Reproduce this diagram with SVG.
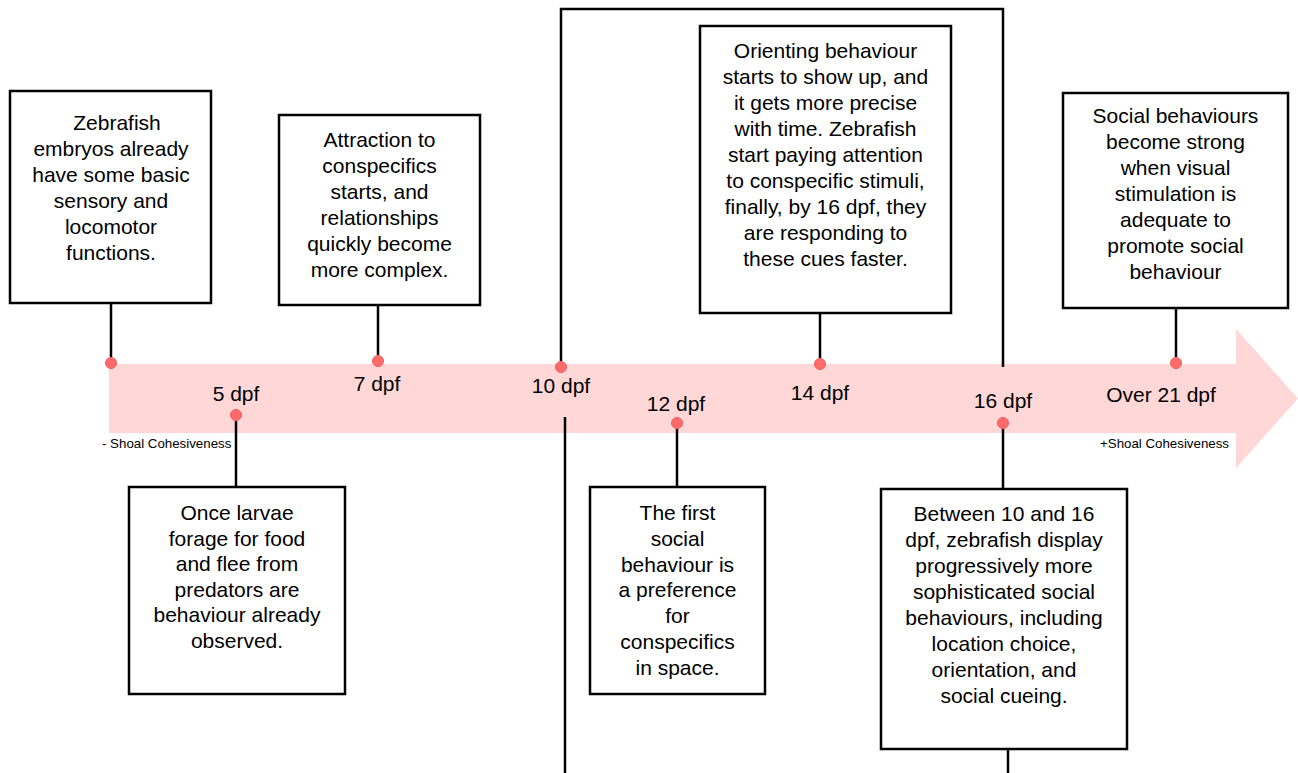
<svg xmlns="http://www.w3.org/2000/svg" width="1298" height="773" viewBox="0 0 1298 773">
<style>
text{font-family:"Liberation Sans",Arial,sans-serif;fill:#000}
.t{font-size:21px;text-anchor:middle}
.s{font-size:13.3px}
.box{fill:#fff;stroke:#000;stroke-width:2.5}
.ln{fill:none;stroke:#000;stroke-width:2.5}
.dot{fill:#ff6b6b;stroke:#f25c5c;stroke-width:1}
</style>
<rect width="1298" height="773" fill="#fff"/>
<g id="timeline-arrow">
<polygon points="109,364 1236,364 1236,329 1298,398.5 1236,468 1236,433 109,433" fill="#ffd7d7"/>
<text class="s" x="102" y="448">- Shoal Cohesiveness</text>
<text class="s" x="1100" y="448">+Shoal Cohesiveness</text>
</g>
<g id="connectors">
<line class="ln" x1="111" y1="303" x2="111" y2="357"/>
<line class="ln" x1="378" y1="305" x2="378" y2="355"/>
<polyline class="ln" points="561,361 561,9 1003,9 1003,367"/>
<line class="ln" x1="565" y1="417" x2="565" y2="773"/>
<line class="ln" x1="820" y1="313" x2="820" y2="358"/>
<line class="ln" x1="1176" y1="308" x2="1176" y2="357"/>
<line class="ln" x1="236" y1="421" x2="236" y2="487"/>
<line class="ln" x1="677" y1="429" x2="677" y2="487"/>
<line class="ln" x1="1003" y1="429" x2="1003" y2="489"/>
<line class="ln" x1="1008" y1="749" x2="1008" y2="773"/>
</g>
<g id="dots">
<circle class="dot" cx="111" cy="363" r="5.5"/>
<circle class="dot" cx="236" cy="415" r="5.5"/>
<circle class="dot" cx="378" cy="361" r="5.5"/>
<circle class="dot" cx="561" cy="367" r="5.5"/>
<circle class="dot" cx="677" cy="423" r="5.5"/>
<circle class="dot" cx="820" cy="364" r="5.5"/>
<circle class="dot" cx="1003" cy="423" r="5.5"/>
<circle class="dot" cx="1176" cy="363" r="5.5"/>
</g>
<g id="labels">
<text class="t" x="236" y="401">5 dpf</text>
<text class="t" x="377" y="391">7 dpf</text>
<text class="t" x="561" y="393">10 dpf</text>
<text class="t" x="676" y="411">12 dpf</text>
<text class="t" x="820" y="400">14 dpf</text>
<text class="t" x="1003" y="408">16 dpf</text>
<text class="t" x="1161" y="402">Over 21 dpf</text>
</g>
<g id="node-embryos">
<rect class="box" x="10" y="91" width="201" height="212"/>
<text class="t"><tspan x="117" y="130">Zebrafish</tspan><tspan x="111" y="156">embryos already</tspan><tspan x="111" y="182">have some basic</tspan><tspan x="111" y="208">sensory and</tspan><tspan x="111" y="234">locomotor</tspan><tspan x="111" y="260">functions.</tspan></text>
</g>
<g id="node-7dpf">
<rect class="box" x="279" y="115" width="201" height="190"/>
<text class="t"><tspan x="379.5" y="147">Attraction to</tspan><tspan x="379.5" y="173">conspecifics</tspan><tspan x="379.5" y="199">starts, and</tspan><tspan x="379.5" y="225">relationships</tspan><tspan x="379.5" y="251">quickly become</tspan><tspan x="379.5" y="277">more complex.</tspan></text>
</g>
<g id="node-14dpf">
<rect class="box" x="700" y="26" width="251" height="287"/>
<text class="t"><tspan x="825.5" y="58">Orienting behaviour</tspan><tspan x="825.5" y="84">starts to show up, and</tspan><tspan x="825.5" y="110">it gets more precise</tspan><tspan x="825.5" y="136">with time. Zebrafish</tspan><tspan x="825.5" y="162">start paying attention</tspan><tspan x="825.5" y="188">to conspecific stimuli,</tspan><tspan x="825.5" y="214">finally, by 16 dpf, they</tspan><tspan x="825.5" y="240">are responding to</tspan><tspan x="825.5" y="266">these cues faster.</tspan></text>
</g>
<g id="node-over21">
<rect class="box" x="1063" y="93" width="225" height="215"/>
<text class="t"><tspan x="1175.5" y="123">Social behaviours</tspan><tspan x="1175.5" y="149">become strong</tspan><tspan x="1175.5" y="175">when visual</tspan><tspan x="1175.5" y="201">stimulation is</tspan><tspan x="1175.5" y="227">adequate to</tspan><tspan x="1175.5" y="253">promote social</tspan><tspan x="1175.5" y="279">behaviour</tspan></text>
</g>
<g id="node-5dpf">
<rect class="box" x="129" y="487" width="216" height="207"/>
<text class="t"><tspan x="237" y="520">Once larvae</tspan><tspan x="237" y="545.6">forage for food</tspan><tspan x="237" y="571.2">and flee from</tspan><tspan x="237" y="596.8">predators are</tspan><tspan x="237" y="622.4">behaviour already</tspan><tspan x="237" y="648">observed.</tspan></text>
</g>
<g id="node-12dpf">
<rect class="box" x="590" y="487" width="175" height="207"/>
<text class="t"><tspan x="677.5" y="520">The first</tspan><tspan x="677.5" y="545.8">social</tspan><tspan x="677.5" y="571.6">behaviour is</tspan><tspan x="677.5" y="597.4">a preference</tspan><tspan x="677.5" y="623.2">for</tspan><tspan x="677.5" y="649">conspecifics</tspan><tspan x="677.5" y="674.8">in space.</tspan></text>
</g>
<g id="node-16dpf">
<rect class="box" x="881" y="489" width="246" height="260"/>
<text class="t"><tspan x="1004" y="521">Between 10 and 16</tspan><tspan x="1004" y="547">dpf, zebrafish display</tspan><tspan x="1004" y="573">progressively more</tspan><tspan x="1004" y="599">sophisticated social</tspan><tspan x="1004" y="625">behaviours, including</tspan><tspan x="1004" y="651">location choice,</tspan><tspan x="1004" y="677">orientation, and</tspan><tspan x="1004" y="703">social cueing.</tspan></text>
</g>
</svg>
